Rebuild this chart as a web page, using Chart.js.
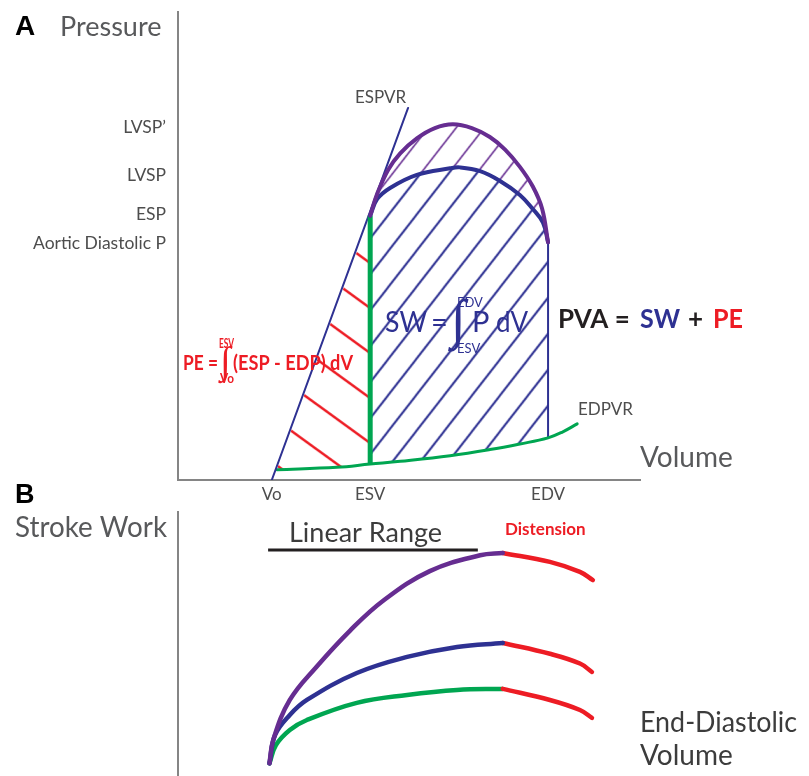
<!DOCTYPE html>
<html>
<head>
<meta charset="utf-8">
<script src="https://cdn.jsdelivr.net/npm/chart.js@4.4.0/dist/chart.umd.min.js"></script>
<style>
  body { margin: 0; background: #fff; }
  #wrap { position: relative; width: 809px; height: 776px; }
  canvas { position: absolute; left: 0; }
</style>
</head>
<body>
<div id="wrap">
  <canvas id="pvChart" width="809" height="505" style="top:0"></canvas>
  <canvas id="swChart" width="809" height="298" style="top:478px"></canvas>
</div>
<script>
// Panel A: pressure-volume loop, arbitrary units (0-100 on both axes)
const volTicks = [20.3, 41.6, 80.1];
const volTickLabels = ['Vo', 'ESV', 'EDV'];
const presTicks = [50.6, 56.8, 65.0, 75.4];
const presTickLabels = ['Aortic Diastolic P', 'ESP', 'LVSP', 'LVSP’'];

const esvVolume = 41.6;
const edvVolume = 80.1;
const espPressure = 56.5;

const espvr = [{x: 20.3, y: 0}, {x: 49.8, y: 79.5}];
const edpvr = [
  {x: 21.4, y: 2.2}, {x: 34.4, y: 2.7}, {x: 41.6, y: 3.4}, {x: 48.1, y: 4.0},
  {x: 58.9, y: 5.2}, {x: 67.5, y: 6.5}, {x: 74.0, y: 7.7}, {x: 80.1, y: 9.0},
  {x: 83.3, y: 10.3}, {x: 86.4, y: 12.0}
];
const lvspArc = [
  {x: 41.6, y: 56.5}, {x: 43.1, y: 60.0}, {x: 45.9, y: 62.4}, {x: 51.7, y: 65.2},
  {x: 58.9, y: 66.6}, {x: 61.0, y: 66.8}, {x: 65.4, y: 66.0}, {x: 69.7, y: 63.9},
  {x: 74.0, y: 60.9}, {x: 76.8, y: 57.9}, {x: 79.0, y: 55.0}, {x: 80.1, y: 50.8}
];
const lvspPrimeArc = [
  {x: 41.6, y: 56.5}, {x: 43.1, y: 61.1}, {x: 45.5, y: 66.3}, {x: 48.1, y: 69.8},
  {x: 51.7, y: 73.0}, {x: 55.6, y: 75.2}, {x: 59.5, y: 76.0}, {x: 63.6, y: 75.2},
  {x: 67.5, y: 73.3}, {x: 70.8, y: 70.6}, {x: 74.0, y: 66.9}, {x: 76.8, y: 62.7},
  {x: 78.8, y: 58.0}, {x: 80.1, y: 50.8}
];

// Panel B: stroke work vs end-diastolic volume
const linearRange = [{x: 19.5, y: 85.6}, {x: 64.9, y: 85.6}];
const purpleLinear = [
  {x: 19.8, y: 4.8}, {x: 20.6, y: 13.6}, {x: 24.2, y: 28.8}, {x: 30.0, y: 41.4},
  {x: 37.2, y: 55.0}, {x: 44.4, y: 66.4}, {x: 54.5, y: 77.6}, {x: 65.4, y: 83.6},
  {x: 70.3, y: 84.5}
];
const purpleDistension = [{x: 70.3, y: 84.5}, {x: 80.5, y: 81.1}, {x: 87.0, y: 77.3}, {x: 89.8, y: 74.2}];
const blueLinear = [
  {x: 19.8, y: 4.8}, {x: 21.0, y: 15.5}, {x: 24.2, y: 23.1}, {x: 27.9, y: 28.8},
  {x: 38.7, y: 39.0}, {x: 49.6, y: 45.1}, {x: 60.4, y: 48.9}, {x: 70.3, y: 50.4}
];
const blueDistension = [{x: 70.3, y: 50.4}, {x: 80.5, y: 46.3}, {x: 87.0, y: 42.6}, {x: 89.6, y: 39.4}];
const greenLinear = [
  {x: 19.8, y: 4.8}, {x: 21.2, y: 11.7}, {x: 24.2, y: 17.4}, {x: 27.9, y: 21.2},
  {x: 38.7, y: 27.7}, {x: 49.6, y: 30.7}, {x: 60.4, y: 32.6}, {x: 70.3, y: 33.0}
];
const greenDistension = [{x: 70.3, y: 33.0}, {x: 80.5, y: 28.8}, {x: 87.0, y: 25.0}, {x: 89.6, y: 22.0}];

const BLUE = '#2e3192';
const PURPLE = '#662d91';
const GREEN = '#00a651';
const RED = '#ed1c24';
const AXIS = '#858585';
const TEXT = '#4d4d4d';
const FONT = "Lato, 'Open Sans', sans-serif";

// diagonal hatch used as a fill pattern
function hatch(color, w, h, lineWidth, rising, tx) {
  const c = document.createElement('canvas');
  c.width = w; c.height = h;
  const g = c.getContext('2d');
  g.strokeStyle = color;
  g.lineWidth = lineWidth;
  g.beginPath();
  for (let k = -2; k <= 2; k++) {
    if (rising) {
      g.moveTo(k * w - w, 2 * h); g.lineTo(k * w + 2 * w, -h);
    } else {
      g.moveTo(k * w - w, -h); g.lineTo(k * w + 2 * w, 2 * h);
    }
  }
  g.stroke();
  const p = g.createPattern(c, 'repeat');
  p.setTransform(new DOMMatrix().translate(tx, 0));
  return p;
}

// text drawn onto the canvas (page coordinates)
const annotate = {
  id: 'annotate',
  afterDraw(chart, args, opts) {
    const ctx = chart.ctx;
    ctx.save();
    ctx.translate(0, -chart.canvas.offsetTop);
    ctx.textBaseline = 'alphabetic';
    opts.items.forEach(t => {
      ctx.font = (t.weight || 'normal') + ' ' + t.size + 'px ' + (t.family || FONT);
      ctx.fillStyle = t.color || TEXT;
      ctx.textAlign = t.align || 'left';
      if (t.w) ctx.fillText(t.text, t.x, t.y, t.w);
      else ctx.fillText(t.text, t.x, t.y);
    });
    ctx.restore();
  }
};

function line(data, color, width, order, extra) {
  return Object.assign({
    data: data, borderColor: color, borderWidth: width, order: order,
    fill: false, tension: 0.4, borderCapStyle: 'round'
  }, extra || {});
}
function area(data, pattern) {
  return {data: data, borderWidth: 0, backgroundColor: pattern, fill: 'shape', tension: 0, order: 5};
}
function noPad(s) {
  s.paddingTop = 0; s.paddingBottom = 0; s.paddingLeft = 0; s.paddingRight = 0;
}

// 1. Panel A
const swArea = edpvr.filter(p => p.x >= esvVolume && p.x <= edvVolume).concat(lvspArc.slice().reverse());
const extraArea = lvspPrimeArc.concat(lvspArc.slice().reverse());
const peArea = [edpvr[0], {x: esvVolume, y: espPressure}]
  .concat(edpvr.filter(p => p.x <= esvVolume && p.x > edpvr[0].x).reverse());
const esvLine = [{x: esvVolume, y: 3.4}, {x: esvVolume, y: espPressure}];
const edvLine = [{x: edvVolume, y: 9.0}, {x: edvVolume, y: 50.8}];

new Chart(document.getElementById('pvChart'), {
  type: 'line',
  data: {
    datasets: [
      area(swArea, hatch(BLUE, 28, 36, 2, true, -4.5)),
      area(extraArea, hatch(PURPLE, 28, 36, 1.6, true, -4.5)),
      area(peArea, hatch(RED, 62, 45, 2.5, false, 7.7)),
      line(espvr, BLUE, 2, 3, {tension: 0}),
      line(edpvr, GREEN, 3, 3),
      line(edvLine, BLUE, 2, 3, {tension: 0}),
      line(esvLine, GREEN, 5, 2, {tension: 0, borderCapStyle: 'butt'}),
      line(lvspArc, BLUE, 4, 1),
      line(lvspPrimeArc, PURPLE, 4, 0)
    ]
  },
  options: {
    responsive: false,
    animation: false,
    layout: {padding: {top: 12, right: 169, left: 0, bottom: 0}},
    elements: {point: {radius: 0}},
    plugins: {
      legend: {display: false},
      tooltip: {enabled: false},
      annotate: {items: [
        {text: 'A', x: 15, y: 35, size: 28, weight: 'bold', family: "'Liberation Sans', Arial", color: '#000'},
        {text: 'Pressure', x: 60, y: 36, size: 27, w: 106, color: '#58595b'},
        {text: 'ESPVR', x: 355, y: 103, size: 17, w: 52},
        {text: 'EDPVR', x: 578, y: 415, size: 17, w: 55},
        {text: 'Volume', x: 640, y: 467, size: 28, w: 97, color: '#58595b'},
        {text: 'PVA =', x: 558, y: 328, size: 26, w: 76, weight: 'bold', color: '#231f20'},
        {text: 'SW', x: 640, y: 328, size: 26, w: 40, weight: 'bold', color: BLUE},
        {text: '+', x: 688, y: 328, size: 26, weight: 'bold', color: '#231f20'},
        {text: 'PE', x: 713, y: 328, size: 26, w: 30, weight: 'bold', color: RED},
        {text: 'SW', x: 385, y: 332, size: 29, w: 42, color: BLUE},
        {text: '=', x: 431, y: 332, size: 29, color: BLUE},
        {text: '∫', x: 451, y: 337, size: 54, family: "'DejaVu Sans'", weight: '200', color: BLUE},
        {text: 'P', x: 472, y: 332, size: 29, color: BLUE},
        {text: 'dV', x: 496, y: 332, size: 29, w: 32, color: BLUE},
        {text: 'EDV', x: 457, y: 307, size: 13, w: 26, color: BLUE},
        {text: 'ESV', x: 457, y: 353, size: 13, w: 25, color: BLUE},
        {text: 'PE =', x: 183, y: 370, size: 21, w: 35, weight: 'bold', color: RED},
        {text: '∫', x: 220, y: 373, size: 38, family: "'DejaVu Sans'", weight: '200', color: RED},
        {text: '(ESP - EDP) dV', x: 233, y: 370, size: 21, w: 120, weight: 'bold', color: RED},
        {text: 'ESV', x: 219, y: 348, size: 13, w: 15, weight: 'bold', color: RED},
        {text: 'Vo', x: 220, y: 383, size: 13, w: 14, weight: 'bold', color: RED}
      ]}
    },
    scales: {
      x: {
        type: 'linear', min: 0, max: 100,
        grid: {display: false, drawTicks: false},
        border: {color: AXIS, width: 2},
        afterBuildTicks: s => { s.ticks = volTicks.map(v => ({value: v})); },
        afterFit: s => { s.height = 25; noPad(s); },
        ticks: {
          autoSkip: false, maxRotation: 0, padding: 4, color: TEXT,
          font: {family: FONT, size: 17},
          callback: (v, i) => volTickLabels[i]
        }
      },
      y: {
        type: 'linear', min: 0, max: 100,
        grid: {display: false, drawTicks: false},
        border: {color: AXIS, width: 2},
        afterBuildTicks: s => { s.ticks = presTicks.map(v => ({value: v})); },
        afterFit: s => { s.width = 178; noPad(s); },
        ticks: {
          autoSkip: false, padding: 12, color: TEXT,
          font: {family: FONT, size: 17.5},
          callback: (v, i) => presTickLabels[i]
        }
      }
    }
  },
  plugins: [annotate]
});

// 2. Panel B
new Chart(document.getElementById('swChart'), {
  type: 'line',
  data: {
    datasets: [
      line(linearRange, '#231f20', 3, 1, {tension: 0, borderCapStyle: 'butt'}),
      line(purpleLinear, PURPLE, 4.5, 1),
      line(purpleDistension, RED, 4.5, 1),
      line(blueLinear, BLUE, 4.5, 1),
      line(blueDistension, RED, 4.5, 1),
      line(greenLinear, GREEN, 4.5, 2),
      line(greenDistension, RED, 4.5, 1)
    ]
  },
  options: {
    responsive: false,
    animation: false,
    layout: {padding: {top: 34, right: 169, left: 0, bottom: 0}},
    elements: {point: {radius: 0}},
    plugins: {
      legend: {display: false},
      tooltip: {enabled: false},
      annotate: {items: [
        {text: 'B', x: 15, y: 503, size: 27, weight: 'bold', family: "'Liberation Sans', Arial", color: '#000'},
        {text: 'Stroke Work', x: 15, y: 537, size: 28, w: 152, color: '#58595b'},
        {text: 'Linear Range', x: 289, y: 542, size: 27, w: 165, color: '#3c3c3c'},
        {text: 'Distension', x: 505, y: 535, size: 17, w: 90, weight: 'bold', color: RED},
        {text: 'End-Diastolic', x: 640, y: 732, size: 28, w: 157, color: '#3c3c3c'},
        {text: 'Volume', x: 640, y: 765, size: 28, w: 96, color: '#3c3c3c'}
      ]}
    },
    scales: {
      x: {type: 'linear', min: 0, max: 100, display: false},
      y: {
        type: 'linear', min: 0, max: 100,
        grid: {display: false, drawTicks: false},
        border: {color: AXIS, width: 2},
        ticks: {display: false},
        afterFit: s => { s.width = 178; noPad(s); }
      }
    }
  },
  plugins: [annotate]
});
</script>
</body>
</html>
